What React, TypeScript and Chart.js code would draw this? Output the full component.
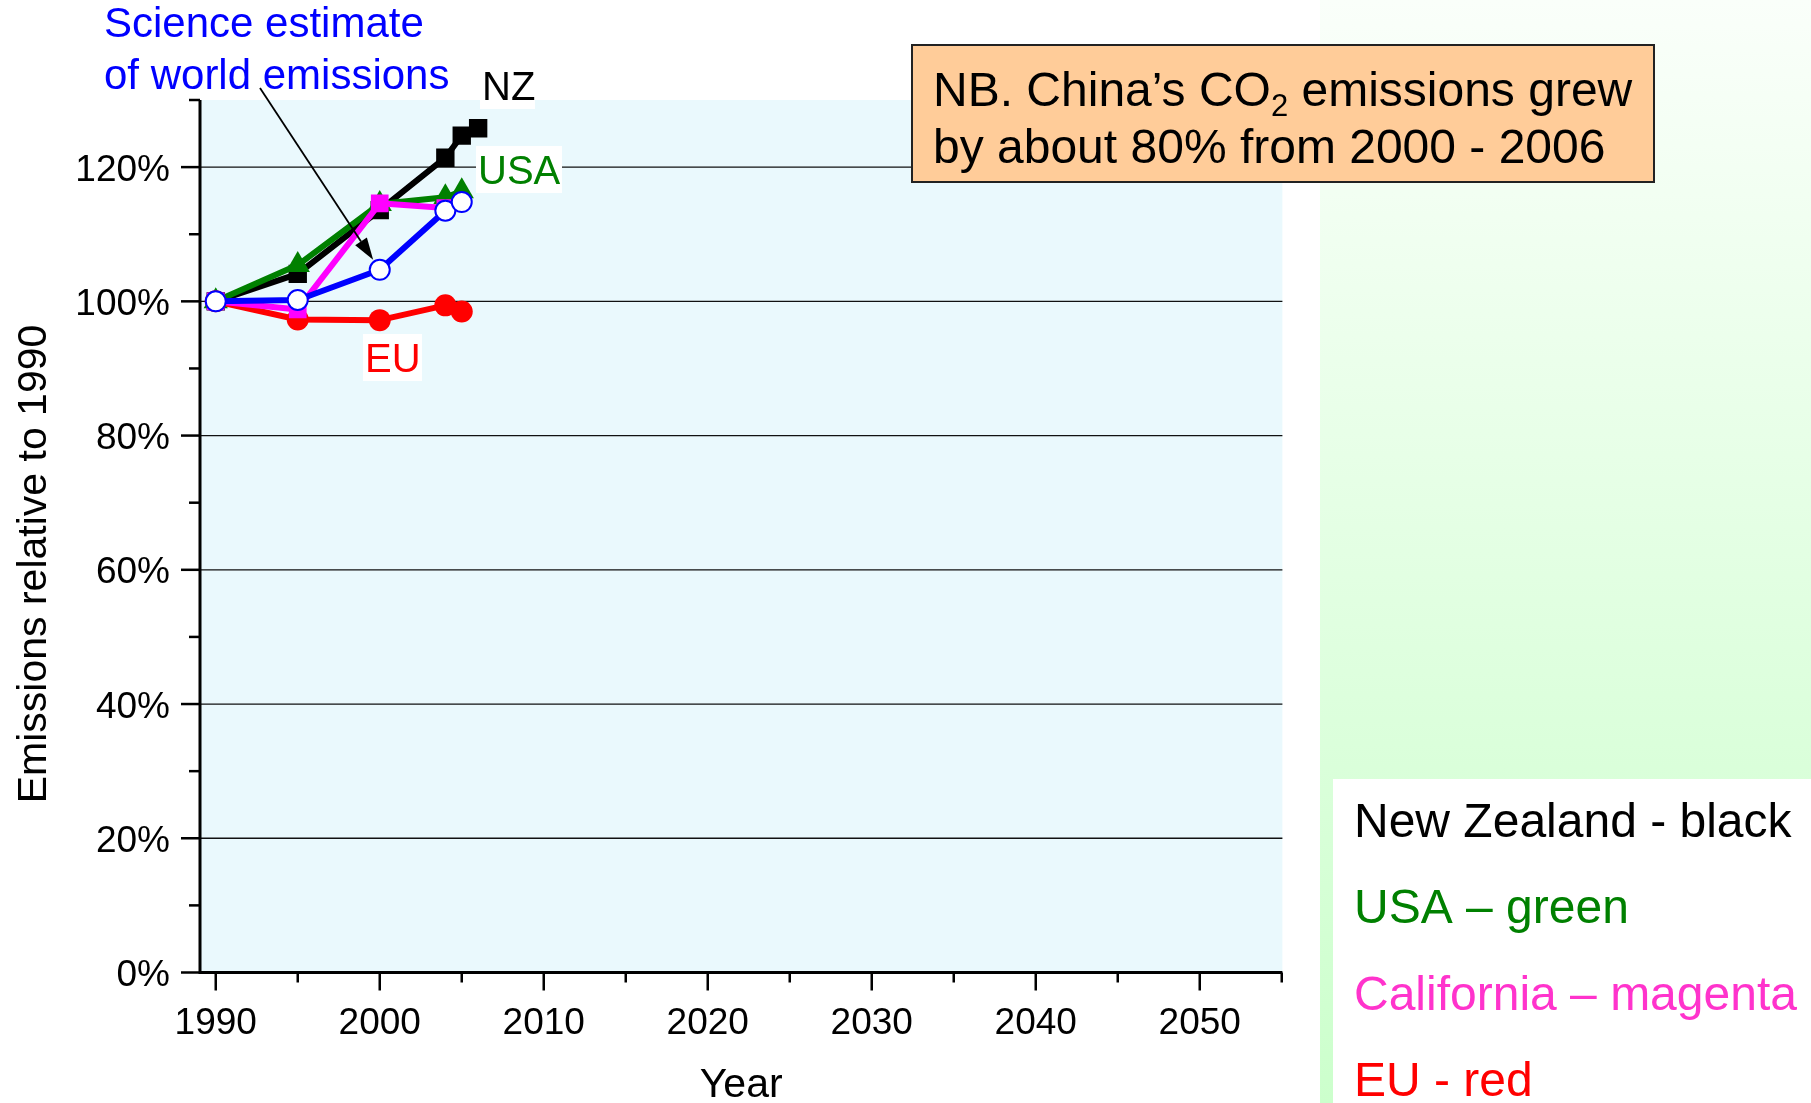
import React, { useEffect, useRef } from 'react';
import { Chart, registerables } from 'chart.js';

Chart.register(...registerables);

const FONT = "'Liberation Sans', Arial, Helvetica, sans-serif";

// ---- data (percent of 1990 emissions) ----
const YEARS = [1990, 1995, 2000, 2004, 2005, 2006];
const NZ_VALUES = [100, 104.1, 113.6, 121.4, 124.7, 125.8];
const USA_VALUES = [100, 105.4, 114.5, 115.5, 116.4];
const CALIFORNIA_VALUES = [100, 98.8, 114.6, 113.9];
const WORLD_VALUES = [100, 100.2, 104.7, 113.5, 114.8];
const EU_VALUES = [100, 97.3, 97.2, 99.4, 98.5];

// ---- axes ----
const X_MIN = 1989.04;
const X_MAX = 2055.04;
const Y_MIN = 0;
const Y_MAX = 130;
const X_MAJOR_TICKS = [1990, 2000, 2010, 2020, 2030, 2040, 2050];
const X_MINOR_TICKS = [1995, 2005, 2015, 2025, 2035, 2045, 2055];
const Y_MAJOR_TICKS = [0, 20, 40, 60, 80, 100, 120];
const Y_MINOR_TICKS = [10, 30, 50, 70, 90, 110, 130];
const Y_GRID = [20, 40, 60, 80, 100, 120];

const X_TITLE = 'Year';
const Y_TITLE = 'Emissions relative to 1990';
const WORLD_NOTE = ['Science estimate', 'of world emissions'];
const NOTE_YEAR = 2000;
const LEGEND_LINES = [
  { text: 'New Zealand - black', color: '#000000' },
  { text: 'USA \u2013 green', color: '#008000' },
  { text: 'California \u2013 magenta', color: '#FF33CC' },
  { text: 'EU - red', color: '#FF0000' },
];

const pts = (vals: number[]) => vals.map((v, i) => ({ x: YEARS[i], y: v }));

const decorPlugin = {
  id: 'decor',
  beforeDraw(chart: any) {
    const { ctx, chartArea: a, width, height } = chart;
    ctx.save();
    ctx.fillStyle = '#ffffff';
    ctx.fillRect(0, 0, width, height);
    // green side panel
    const g = ctx.createLinearGradient(0, 0, 0, height);
    g.addColorStop(0, '#FAFFFA');
    g.addColorStop(1, '#CCFFCC');
    ctx.fillStyle = g;
    ctx.fillRect(1320, 0, width - 1320, height);
    // legend white box
    ctx.fillStyle = '#ffffff';
    ctx.fillRect(1333, 779, width - 1333, height - 779);
    // plot background
    ctx.fillStyle = '#EAF9FD';
    ctx.fillRect(a.left, a.top, a.right - a.left, a.bottom - a.top);
    // gridlines
    const ys = chart.scales.y;
    ctx.strokeStyle = '#111';
    ctx.lineWidth = 1.3;
    for (const v of Y_GRID) {
      const y = ys.getPixelForValue(v);
      ctx.beginPath();
      ctx.moveTo(a.left, y);
      ctx.lineTo(a.right, y);
      ctx.stroke();
    }
    ctx.restore();
  },
  afterDatasetsDraw(chart: any) {
    const { ctx } = chart;
    const xs = chart.scales.x;
    const ys = chart.scales.y;
    ctx.save();
    ctx.font = `40px ${FONT}`;
    ctx.textAlign = 'left';
    ctx.textBaseline = 'alphabetic';
    const label = (text: string, color: string, x: number, base: number, box: number[]) => {
      ctx.fillStyle = '#ffffff';
      ctx.fillRect(box[0], box[1], box[2], box[3]);
      ctx.fillStyle = color;
      ctx.fillText(text, x, base);
    };
    label('NZ', '#000000', 482, 100, [480, 63, 55, 46]);
    label('USA', '#008000', 478, 184, [476, 146, 86, 47]);
    label('EU', '#FF0000', 365, 372, [363, 334, 59, 47]);

    // blue note text
    ctx.font = `42px ${FONT}`;
    ctx.fillStyle = '#0000FF';
    ctx.fillText(WORLD_NOTE[0], 104, 37);
    ctx.fillText(WORLD_NOTE[1], 104, 89);

    // arrow to the world 2000 point
    const idx = YEARS.indexOf(NOTE_YEAR);
    const cx = xs.getPixelForValue(NOTE_YEAR);
    const cy = ys.getPixelForValue(WORLD_VALUES[idx]);
    const sx = 260, sy = 88;
    const dx = cx - sx, dy = cy - sy;
    const len = Math.hypot(dx, dy);
    const ux = dx / len, uy = dy / len;
    const tx = cx - ux * 12, ty = cy - uy * 12;
    const headLen = 22, headW = 7;
    const bx = tx - ux * headLen, by = ty - uy * headLen;
    ctx.strokeStyle = '#000';
    ctx.lineWidth = 1.8;
    ctx.beginPath();
    ctx.moveTo(sx, sy);
    ctx.lineTo(bx, by);
    ctx.stroke();
    ctx.fillStyle = '#000';
    ctx.beginPath();
    ctx.moveTo(tx, ty);
    ctx.lineTo(bx - uy * headW, by + ux * headW);
    ctx.lineTo(bx + uy * headW, by - ux * headW);
    ctx.closePath();
    ctx.fill();
    ctx.restore();
  },
  afterDraw(chart: any) {
    const { ctx, chartArea: a } = chart;
    const xs = chart.scales.x;
    const ys = chart.scales.y;
    ctx.save();
    ctx.strokeStyle = '#000';
    ctx.lineCap = 'butt';
    // ticks
    ctx.lineWidth = 2.5;
    for (const v of Y_MAJOR_TICKS) {
      const y = ys.getPixelForValue(v);
      ctx.beginPath(); ctx.moveTo(a.left - 19, y); ctx.lineTo(a.left, y); ctx.stroke();
    }
    for (const v of Y_MINOR_TICKS) {
      const y = ys.getPixelForValue(v);
      ctx.beginPath(); ctx.moveTo(a.left - 11, y); ctx.lineTo(a.left, y); ctx.stroke();
    }
    for (const v of X_MAJOR_TICKS) {
      const x = xs.getPixelForValue(v);
      ctx.beginPath(); ctx.moveTo(x, a.bottom); ctx.lineTo(x, a.bottom + 18); ctx.stroke();
    }
    for (const v of X_MINOR_TICKS) {
      const x = xs.getPixelForValue(v);
      ctx.beginPath(); ctx.moveTo(x, a.bottom); ctx.lineTo(x, a.bottom + 10); ctx.stroke();
    }
    // axis lines
    ctx.lineWidth = 3;
    ctx.beginPath();
    ctx.moveTo(a.left, a.top);
    ctx.lineTo(a.left, a.bottom + 1.5);
    ctx.moveTo(a.left - 1.5, a.bottom);
    ctx.lineTo(a.right, a.bottom);
    ctx.stroke();

    // tick labels
    ctx.fillStyle = '#000';
    ctx.font = `37px ${FONT}`;
    ctx.textAlign = 'right';
    ctx.textBaseline = 'alphabetic';
    for (const v of Y_MAJOR_TICKS) {
      const y = ys.getPixelForValue(v);
      ctx.fillText(`${v}%`, a.left - 30, y + 13.5);
    }
    ctx.textAlign = 'center';
    for (const v of X_MAJOR_TICKS) {
      const x = xs.getPixelForValue(v);
      ctx.fillText(String(v), x, a.bottom + 61);
    }
    // axis titles
    ctx.font = `41px ${FONT}`;
    ctx.fillText(X_TITLE, (a.left + a.right) / 2, 1097);
    ctx.save();
    ctx.translate(46, 564);
    ctx.rotate(-Math.PI / 2);
    ctx.textAlign = 'center';
    ctx.fillText(Y_TITLE, 0, 0);
    ctx.restore();

    // China note box
    ctx.fillStyle = '#FFCC99';
    ctx.fillRect(912, 45, 742, 137);
    ctx.strokeStyle = '#222';
    ctx.lineWidth = 2;
    ctx.strokeRect(912, 45, 742, 137);
    ctx.fillStyle = '#000';
    ctx.textAlign = 'left';
    ctx.font = `48px ${FONT}`;
    let x = 933;
    const part1 = 'NB. China\u2019s CO';
    ctx.fillText(part1, x, 106);
    x += ctx.measureText(part1).width;
    ctx.font = `31px ${FONT}`;
    ctx.fillText('2', x, 116);
    x += ctx.measureText('2').width;
    ctx.font = `48px ${FONT}`;
    ctx.fillText(' emissions grew', x, 106);
    ctx.fillText('by about 80% from 2000 - 2006', 933, 163);

    // legend text
    LEGEND_LINES.forEach((l, i) => {
      ctx.fillStyle = l.color;
      ctx.fillText(l.text, 1354, 837 + i * 86.3);
    });
    ctx.restore();
  },
};

export default function App() {
  const ref = useRef<HTMLCanvasElement>(null);
  useEffect(() => {
    const canvas = ref.current;
    if (!canvas) return;
    const common = {
      fill: false,
      tension: 0,
      borderWidth: 6,
      borderCapStyle: 'round',
      borderJoinStyle: 'round',
    };
    const chart = new Chart(canvas, {
      type: 'line',
      data: {
        datasets: [
          {
            ...common,
            label: 'World',
            data: pts(WORLD_VALUES),
            borderColor: '#0000FF',
            pointBackgroundColor: '#FFFFFF',
            pointBorderColor: '#0000FF',
            pointBorderWidth: 2,
            pointStyle: 'circle',
            pointRadius: 10,
            order: 0,
          },
          {
            ...common,
            label: 'California',
            data: pts(CALIFORNIA_VALUES),
            borderColor: '#FF00FF',
            pointBackgroundColor: '#FF00FF',
            pointBorderColor: '#FF00FF',
            pointBorderWidth: 0,
            pointStyle: 'rect',
            pointRadius: 12.5,
            order: 1,
          },
          {
            ...common,
            label: 'EU',
            data: pts(EU_VALUES),
            borderColor: '#FF0000',
            pointBackgroundColor: '#FF0000',
            pointBorderColor: '#FF0000',
            pointBorderWidth: 0,
            pointStyle: 'circle',
            pointRadius: 11,
            order: 2,
          },
          {
            ...common,
            label: 'USA',
            data: pts(USA_VALUES),
            borderColor: '#008000',
            pointBackgroundColor: '#008000',
            pointBorderColor: '#008000',
            pointBorderWidth: 0,
            pointStyle: 'triangle',
            pointRadius: 14,
            order: 3,
          },
          {
            ...common,
            label: 'New Zealand',
            data: pts(NZ_VALUES),
            borderColor: '#000000',
            pointBackgroundColor: '#000000',
            pointBorderColor: '#000000',
            pointBorderWidth: 0,
            pointStyle: 'rect',
            pointRadius: 13,
            order: 4,
          },
        ],
      },
      options: {
        responsive: false,
        animation: false,
        events: [],
        layout: { padding: { left: 200, right: 528.6, top: 100, bottom: 130.5 } },
        scales: {
          x: { type: 'linear', min: X_MIN, max: X_MAX, display: false },
          y: { type: 'linear', min: Y_MIN, max: Y_MAX, display: false },
        },
        plugins: {
          legend: { display: false },
          tooltip: { enabled: false },
          title: { display: false },
        },
      } as any,
      plugins: [decorPlugin],
    } as any);
    return () => chart.destroy();
  }, []);
  return (
    <div style={{ position: 'fixed', left: 0, top: 0, width: 1811, height: 1103, background: '#fff', overflow: 'hidden' }}>
      <canvas ref={ref} width={1811} height={1103} style={{ display: 'block' }} />
    </div>
  );
}
